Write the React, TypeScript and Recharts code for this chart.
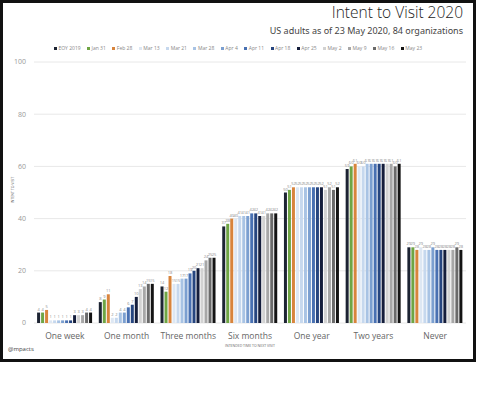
import React from "react";
import { BarChart, Bar, XAxis, YAxis, CartesianGrid, LabelList } from "recharts";

// Intended time to next visit (x axis)
const categories = ["One week", "One month", "Three months", "Six months", "One year", "Two years", "Never"];

// Survey waves, in legend order
const waves = [
  "EOY 2019", "Jan 31", "Feb 28", "Mar 13", "Mar 21", "Mar 28", "Apr 4",
  "Apr 11", "Apr 18", "Apr 25", "May 2", "May 9", "May 16", "May 23",
];

const waveColors = [
  "#1d2433", "#6fa544", "#d8843c", "#dde7f3", "#c6d8ee", "#a8c3e4", "#7b9fd0",
  "#4870b2", "#26457f", "#141d3b", "#d2d2d2", "#a7a7a7", "#6a6a6a", "#141414",
];

// share of respondents per category, one value per wave
const oneWeek = [4, 4, 5, 1, 1, 1, 1, 1, 1, 3, 3, 3, 4, 4];
const oneMonth = [8, 9, 11, 2, 2, 4, 4, 6, 7, 10, 13, 14, 15, 15];
const threeMonths = [14, 12, 18, 15, 15, 17, 17, 19, 20, 21, 21, 24, 25, 25];
const sixMonths = [37, 38, 40, 40, 41, 41, 41, 42, 42, 41, 41, 42, 42, 42];
const oneYear = [50, 51, 52, 52, 52, 52, 52, 52, 52, 52, 51, 52, 51, 52];
const twoYears = [59, 60, 61, 60, 60, 61, 61, 61, 61, 61, 61, 61, 60, 61];
const never = [29, 29, 28, 29, 28, 28, 29, 28, 28, 28, 28, 28, 29, 28];

const yTicks = [0, 20, 40, 60, 80, 100];

const rows = [oneWeek, oneMonth, threeMonths, sixMonths, oneYear, twoYears, never];
const data = categories.map((name, i) => {
  const row: Record<string, number | string> = { name };
  waves.forEach((w, j) => {
    row[w] = rows[i][j];
  });
  return row;
});

const font = "'Open Sans', Lato, sans-serif";

export default function App() {
  return (
    <div style={{ position: "fixed", left: 0, top: 0, width: 480, height: 397, background: "#fff", fontFamily: font }}>
      {/* black frame */}
      <div
        style={{
          position: "absolute", left: 0, top: 0, width: 476, height: 362,
          border: "3px solid #111", boxSizing: "border-box",
        }}
      />

      <div style={{ position: "absolute", right: 17, top: 4, fontSize: 15.5, lineHeight: "16px", color: "#222", fontWeight: 300 }}>
        Intent to Visit 2020
      </div>
      <div style={{ position: "absolute", right: 17, top: 26, fontSize: 9, lineHeight: "10px", color: "#444", fontFamily: "'Noto Sans', sans-serif" }}>
        US adults as of 23 May 2020, 84 organizations
      </div>

      {/* legend */}
      <div
        style={{
          position: "absolute", left: 0, width: 476, top: 45, display: "flex",
          justifyContent: "center", fontSize: 5, lineHeight: "6px", color: "#888", gap: 6.5,
        }}
      >
        {waves.map((w, i) => (
          <span key={w} style={{ display: "flex", alignItems: "center" }}>
            <span style={{ width: 3, height: 3, background: waveColors[i], marginRight: 1.5, display: "inline-block" }} />
            {w}
          </span>
        ))}
      </div>

      <div style={{ position: "absolute", left: 0, top: 0 }}>
        <BarChart
          width={480}
          height={360}
          data={data}
          margin={{ top: 62, right: 14, bottom: 17, left: 10 }}
          barCategoryGap="5%"
          barGap={1}
        >
          <CartesianGrid vertical={false} stroke="#e8e8e8" />
          <XAxis
            dataKey="name"
            axisLine={false}
            tickLine={false}
            height={20}
            tick={{ fontSize: 8.5, fill: "#666", fontFamily: font }}
            tickMargin={4}
          />
          <YAxis
            width={24}
            domain={[0, 100]}
            ticks={yTicks}
            axisLine={false}
            tickLine={false}
            tick={{ fontSize: 7, fill: "#999", fontFamily: font }}
          />
          {waves.map((w, i) => (
            <Bar key={w} dataKey={w} fill={waveColors[i]} isAnimationActive={false}>
              <LabelList dataKey={w} position="top" offset={2} fontSize={4} fill="#888" fontFamily={font} />
            </Bar>
          ))}
        </BarChart>
      </div>

      <div
        style={{
          position: "absolute", left: 12, top: 190, fontSize: 3.5, color: "#666",
          transform: "translate(-50%, -50%) rotate(-90deg)", whiteSpace: "nowrap",
        }}
      >
        INTENT TO VISIT
      </div>
      <div
        style={{
          position: "absolute", left: 250, top: 345, fontSize: 3.5, color: "#666",
          transform: "translate(-50%, -50%)", whiteSpace: "nowrap",
        }}
      >
        INTENDED TIME TO NEXT VISIT
      </div>
      <div style={{ position: "absolute", left: 8, top: 345, fontSize: 6, color: "#444" }}>@mpacts</div>
    </div>
  );
}
